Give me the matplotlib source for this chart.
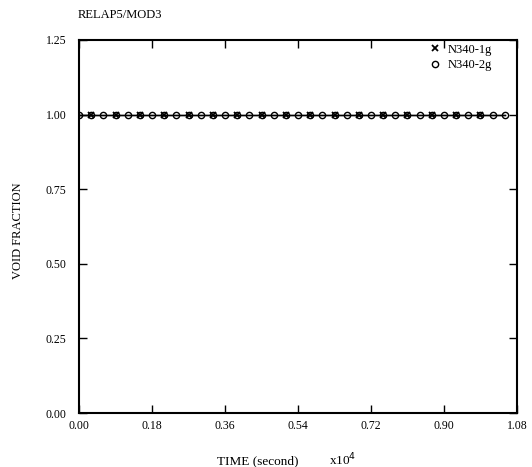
import matplotlib
matplotlib.use('Agg')
import matplotlib.pyplot as plt

plt.rcParams['font.family'] = ['Liberation Serif', 'DejaVu Serif']

# void fraction at node N340, times in seconds
t_1g = [300, 900, 1500, 2100, 2700, 3300, 3900, 4500, 5100, 5700,
        6300, 6900, 7500, 8100, 8700, 9300, 9900]
void_1g = [1.0] * len(t_1g)

t_2g = [0, 300, 600, 900, 1200, 1500, 1800, 2100, 2400, 2700, 3000,
        3300, 3600, 3900, 4200, 4500, 4800, 5100, 5400, 5700, 6000,
        6300, 6600, 6900, 7200, 7500, 7800, 8100, 8400, 8700, 9000,
        9300, 9600, 9900, 10200, 10500]
void_2g = [1.0] * len(t_2g)

xticks = [0.00, 0.18, 0.36, 0.54, 0.72, 0.90, 1.08]
yticks = [0.00, 0.25, 0.50, 0.75, 1.00, 1.25]

fig = plt.figure(figsize=(5.32, 4.67), dpi=100)
ax = fig.add_axes([79 / 532, 1 - 413 / 467, 438 / 532, 373 / 467])

x1 = [t / 1e4 for t in t_1g]
x2 = [t / 1e4 for t in t_2g]
ax.plot([0] + x1 + [1.05], [1.0] + void_1g + [1.0], color='black', lw=1.0)
ax.plot(x2, void_2g, color='black', lw=1.0)
ax.plot(x1, void_1g, ls='none', marker='x', ms=4.5, mew=1.3, color='black',
        label='N340-1g')
ax.plot(x2, void_2g, ls='none', marker='o', ms=4.5, mew=1.0, mfc='none',
        color='black', label='N340-2g')

ax.set_xlim(0, 1.08)
ax.set_ylim(0, 1.25)
ax.set_xticks(xticks)
ax.set_xticklabels(['%.2f' % v for v in xticks])
ax.set_yticks(yticks)
ax.set_yticklabels(['%.2f' % v for v in yticks])
ax.tick_params(direction='in', top=True, right=True, length=6, width=1,
               labelsize=8.5)
ax.tick_params(axis='x', pad=5)
ax.tick_params(axis='y', pad=9)
for s in ax.spines.values():
    s.set_linewidth(1.5)

ax.legend(loc='upper right', bbox_to_anchor=(0.96, 1.01), frameon=False,
          fontsize=9, handlelength=0.8, handletextpad=0.6,
          labelspacing=0.25, borderaxespad=0.2)

fig.text(78 / 532, 1 - 15 / 467, 'RELAP5/MOD3', fontsize=9, va='center')
fig.text(18 / 532, 1 - 231 / 467, 'VOID FRACTION', fontsize=9,
         rotation=90, va='center', ha='center')
fig.text(258 / 532, 1 - 461 / 467, 'TIME (second)', fontsize=9.5,
         va='center', ha='center')
fig.text(343 / 532, 1 - 460 / 467, r'x10$^4$', fontsize=9.5,
         va='center', ha='center')

fig.savefig('out.png', dpi=100)
